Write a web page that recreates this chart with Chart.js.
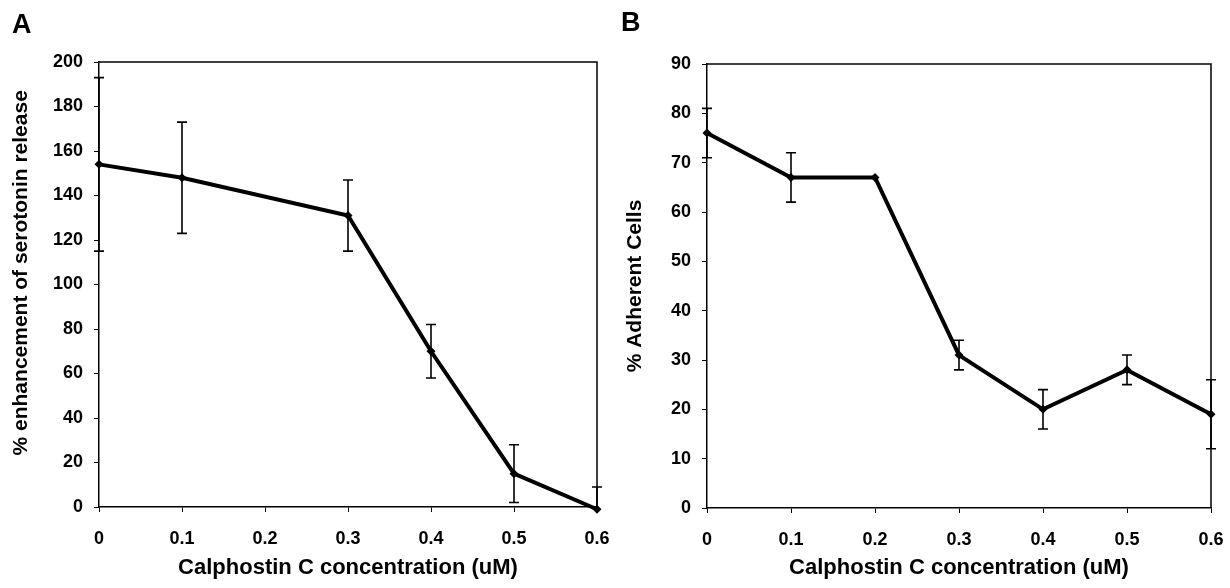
<!DOCTYPE html>
<html lang="en">
<head>
  <meta charset="UTF-8">
  <title>Calphostin C</title>
  <script src="https://cdn.jsdelivr.net/npm/chart.js"></script>
  <style>
    body {
      margin: 0;
      background: #fff;
      font-family: "Liberation Sans", Arial, sans-serif;
    }
    .panel {
      position: absolute;
      top: 0;
      width: 615px;
      height: 588px;
    }
    .letter {
      position: absolute;
      font-weight: bold;
      font-size: 27px;
      color: #000;
    }
  </style>
</head>
<body>

  <div class="panel" style="left:0">
    <canvas id="graficoA" width="615" height="588"></canvas>
    <div class="letter" style="left:12px; top:9px;">A</div>
  </div>
  <div class="panel" style="left:615px">
    <canvas id="graficoB" width="615" height="588"></canvas>
    <div class="letter" style="left:6px; top:7px;">B</div>
  </div>

  <script>
    // Panel A: serotonin release
    const concA = [0, 0.1, 0.3, 0.4, 0.5, 0.6];
    const serotonin = [154, 148, 131, 70, 15, -1];
    const serotoninErr = [39, 25, 16, 12, 13, 10];

    // Panel B: adherent cells
    const concB = [0, 0.1, 0.2, 0.3, 0.4, 0.5, 0.6];
    const adherent = [76, 67, 67, 31, 20, 28, 19];
    const adherentErr = [5, 5, 0, 3, 4, 3, 7];

    const xTicks = [0, 0.1, 0.2, 0.3, 0.4, 0.5, 0.6];
    const xTitle = 'Calphostin C concentration (uM)';

    const fuente = '"Liberation Sans", Arial, sans-serif';

    // error bars + box around the plot
    const barrasError = {
      id: 'barrasError',
      afterDatasetsDraw(chart, args, opts) {
        const { ctx, chartArea } = chart;
        const x = chart.scales.x, y = chart.scales.y;
        const ds = chart.data.datasets[0];
        ctx.save();
        ctx.beginPath();
        ctx.rect(0, chartArea.top, chart.width, chartArea.bottom - chartArea.top);
        ctx.clip();
        ctx.strokeStyle = '#000';
        ctx.lineWidth = 1.6;
        ds.data.forEach((p, i) => {
          const e = opts.errores[i];
          if (!e) return;
          const px = x.getPixelForValue(p.x);
          const top = y.getPixelForValue(p.y + e);
          const bot = y.getPixelForValue(p.y - e);
          ctx.beginPath();
          ctx.moveTo(px, top); ctx.lineTo(px, bot);
          ctx.moveTo(px - 5, top); ctx.lineTo(px + 5, top);
          ctx.moveTo(px - 5, bot); ctx.lineTo(px + 5, bot);
          ctx.stroke();
        });
        ctx.restore();
      },
      afterDraw(chart) {
        const { ctx, chartArea } = chart;
        ctx.save();
        ctx.strokeStyle = '#000';
        ctx.lineWidth = 1.5;
        ctx.beginPath();
        ctx.moveTo(chartArea.left, chartArea.top);
        ctx.lineTo(chartArea.right, chartArea.top);
        ctx.lineTo(chartArea.right, chartArea.bottom);
        ctx.stroke();
        ctx.restore();
      }
    };

    function crearGrafico(id, xs, ys, errs, cfg) {
      new Chart(document.getElementById(id), {
        type: 'line',
        data: {
          datasets: [{
            data: xs.map((v, i) => ({ x: v, y: ys[i] })),
            borderColor: '#000',
            backgroundColor: '#000',
            borderWidth: 4,
            pointStyle: 'rectRot',
            pointRadius: 4.5,
            pointBorderWidth: 0,
            tension: 0,
            clip: false
          }]
        },
        options: {
          responsive: false,
          animation: false,
          layout: { padding: { top: cfg.top, right: cfg.right, left: 0, bottom: 0 } },
          plugins: {
            legend: { display: false },
            tooltip: { enabled: false },
            barrasError: { errores: errs }
          },
          scales: {
            x: {
              type: 'linear',
              min: 0, max: 0.6,
              afterBuildTicks: s => { s.ticks = xTicks.map(v => ({ value: v })); },
              afterFit: s => {
                s.height = cfg.xHeight;
                s.paddingRight = cfg.right;
                s.paddingLeft = 0;
              },
              grid: { drawOnChartArea: false, color: '#000', tickLength: 5 },
              border: { color: '#000', width: 1.5 },
              ticks: {
                color: '#000', padding: 16,
                font: { family: fuente, size: 18, weight: 'bold' },
                callback: v => String(v)
              },
              title: {
                display: true, text: xTitle, color: '#000',
                font: { family: fuente, size: 22, weight: 'bold' },
                padding: { top: 0, bottom: 7 }
              }
            },
            y: {
              min: cfg.yMin, max: cfg.yMax,
              ticks: {
                stepSize: cfg.yStep, color: '#000', padding: 11,
                font: { family: fuente, size: 18, weight: 'bold' }
              },
              afterFit: s => { s.width = cfg.yWidth; },
              grid: { drawOnChartArea: false, color: '#000', tickLength: 5 },
              border: { color: '#000', width: 1.5 },
              title: {
                display: true, text: cfg.yTitle, color: '#000',
                font: { family: fuente, size: 21, weight: 'bold' },
                padding: { top: cfg.yTitlePad, bottom: 0 }
              }
            }
          }
        },
        plugins: [barrasError]
      });
    }

    crearGrafico('graficoA', concA, serotonin, serotoninErr, {
      top: 62, right: 18, xHeight: 81, yWidth: 99, yTitlePad: 9,
      yMin: 0, yMax: 200, yStep: 20,
      yTitle: '    % enhancement of serotonin release'
    });

    crearGrafico('graficoB', concB, adherent, adherentErr, {
      top: 64, right: 19, xHeight: 80, yWidth: 92, yTitlePad: 8,
      yMin: 0, yMax: 90, yStep: 10,
      yTitle: '% Adherent Cells'
    });
  </script>

</body>
</html>
